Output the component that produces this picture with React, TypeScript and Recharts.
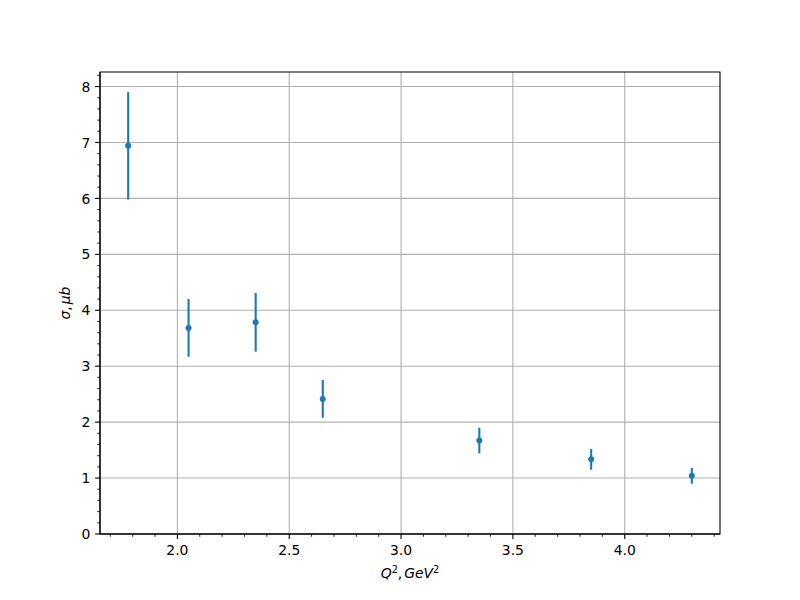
import React from "react";
import {
  ScatterChart,
  Scatter,
  XAxis,
  YAxis,
  CartesianGrid,
  ErrorBar,
  Label,
  ReferenceArea,
} from "recharts";

// Data
const q2 = [1.78, 2.05, 2.35, 2.65, 3.35, 3.85, 4.3];
const sigma = [6.94, 3.685, 3.785, 2.415, 1.67, 1.335, 1.04];
const sigmaErr = [0.96, 0.515, 0.525, 0.337, 0.23, 0.186, 0.14];

// Ticks
const xMajorTicks = [2.0, 2.5, 3.0, 3.5, 4.0];
const xAllTicks = [
  1.7, 1.8, 1.9, 2.0, 2.1, 2.2, 2.3, 2.4, 2.5, 2.6, 2.7, 2.8, 2.9, 3.0, 3.1,
  3.2, 3.3, 3.4, 3.5, 3.6, 3.7, 3.8, 3.9, 4.0, 4.1, 4.2, 4.3, 4.4,
];
const yMajorTicks = [0, 1, 2, 3, 4, 5, 6, 7, 8];
const yAllTicks = [
  0, 0.2, 0.4, 0.6, 0.8, 1, 1.2, 1.4, 1.6, 1.8, 2, 2.2, 2.4, 2.6, 2.8, 3, 3.2,
  3.4, 3.6, 3.8, 4, 4.2, 4.4, 4.6, 4.8, 5, 5.2, 5.4, 5.6, 5.8, 6, 6.2, 6.4, 6.6,
  6.8, 7, 7.2, 7.4, 7.6, 7.8, 8, 8.2,
];

const xDomain: [number, number] = [1.654, 4.426];
const yDomain: [number, number] = [0, 8.26];

const data = q2.map((x, i) => ({ x, y: sigma[i], err: sigmaErr[i] }));

const COLOR = "#1f77b4";
const FONT = "'DejaVu Sans', sans-serif";
const FS = 13.9;

const isMajor = (v: number, majors: number[]) =>
  majors.some((m) => Math.abs(m - v) < 1e-6);

const XTick = (props: any) => {
  const { x, y, payload } = props;
  const v = payload.value as number;
  const major = isMajor(v, xMajorTicks);
  return (
    <g>
      <line
        x1={x}
        x2={x}
        y1={y}
        y2={y + (major ? 4.9 : 2.8)}
        stroke="#000"
        strokeWidth={major ? 1.1 : 0.85}
      />
      {major && (
        <text
          x={x}
          y={y + 20.8}
          textAnchor="middle"
          fontFamily={FONT}
          fontSize={FS}
          fill="#000"
        >
          {v.toFixed(1)}
        </text>
      )}
    </g>
  );
};

const YTick = (props: any) => {
  const { x, y, payload } = props;
  const v = payload.value as number;
  const major = isMajor(v, yMajorTicks);
  return (
    <g>
      <line
        x1={x}
        x2={x - (major ? 4.9 : 2.8)}
        y1={y}
        y2={y}
        stroke="#000"
        strokeWidth={major ? 1.1 : 0.85}
      />
      {major && (
        <text
          x={x - 9.7}
          y={y + 5.1}
          textAnchor="end"
          fontFamily={FONT}
          fontSize={FS}
          fill="#000"
        >
          {String(v)}
        </text>
      )}
    </g>
  );
};

const XLabel = (props: any) => {
  const vb = props.viewBox || { x: 100, y: 534, width: 620 };
  const cx = vb.x + vb.width / 2;
  return (
    <text
      x={cx}
      y={578}
      textAnchor="middle"
      fontFamily={FONT}
      fontSize={FS}
      fill="#000"
    >
      <tspan fontStyle="italic">Q</tspan>
      <tspan fontSize={9.7} dy={-5.5}>
        2
      </tspan>
      <tspan dy={5.5}>,</tspan>
      <tspan fontStyle="italic" dx={2}>
        GeV
      </tspan>
      <tspan fontSize={9.7} dy={-5.5}>
        2
      </tspan>
    </text>
  );
};

const YLabel = (props: any) => {
  const vb = props.viewBox || { x: 40, y: 72, height: 462 };
  const cy = vb.y + vb.height / 2;
  const bx = 70;
  return (
    <text
      x={bx}
      y={cy}
      transform={`rotate(-90, ${bx}, ${cy})`}
      textAnchor="middle"
      fontFamily={FONT}
      fontSize={FS}
      fill="#000"
    >
      <tspan fontStyle="italic">σ</tspan>
      <tspan>,</tspan>
      <tspan fontStyle="italic" dx={2}>
        μb
      </tspan>
    </text>
  );
};

const Dot = (p: any) => <circle cx={p.cx} cy={p.cy} r={3} fill={COLOR} />;

export default function App() {
  return (
    <div style={{ position: "absolute", left: 0, top: 0, background: "#fff" }}>
      <ScatterChart
        width={800}
        height={600}
        margin={{ top: 72, right: 80, bottom: 0, left: 40 }}
      >
        <CartesianGrid
          xAxisId="main"
          yAxisId="main"
          stroke="#b0b0b0"
          strokeWidth={1.1}
          horizontalValues={yMajorTicks}
          verticalValues={xMajorTicks}
        />
        <XAxis
          xAxisId="main"
          type="number"
          dataKey="x"
          domain={xDomain}
          allowDataOverflow
          ticks={xAllTicks}
          interval={0}
          tick={<XTick />}
          tickLine={false}
          tickSize={0}
          tickMargin={0}
          height={66}
          axisLine={{ stroke: "#000", strokeWidth: 1.1 }}
        >
          <Label content={<XLabel />} />
        </XAxis>
        <YAxis
          yAxisId="main"
          type="number"
          dataKey="y"
          domain={yDomain}
          allowDataOverflow
          ticks={yAllTicks}
          interval={0}
          tick={<YTick />}
          tickLine={false}
          tickSize={0}
          tickMargin={0}
          width={60}
          axisLine={{ stroke: "#000", strokeWidth: 1.1 }}
        >
          <Label content={<YLabel />} />
        </YAxis>
        <ReferenceArea
          xAxisId="main"
          yAxisId="main"
          x1={xDomain[0]}
          x2={xDomain[1]}
          y1={yDomain[0]}
          y2={yDomain[1]}
          fill="none"
          fillOpacity={0}
          stroke="#000"
          strokeWidth={1.1}
          strokeOpacity={1}
          ifOverflow="visible"
        />
        <Scatter
          xAxisId="main"
          yAxisId="main"
          data={data}
          fill={COLOR}
          shape={Dot}
          isAnimationActive={false}
        >
          <ErrorBar
            dataKey="err"
            direction="y"
            width={0}
            stroke={COLOR}
            strokeWidth={2.1}
            isAnimationActive={false}
          />
        </Scatter>
      </ScatterChart>
    </div>
  );
}
